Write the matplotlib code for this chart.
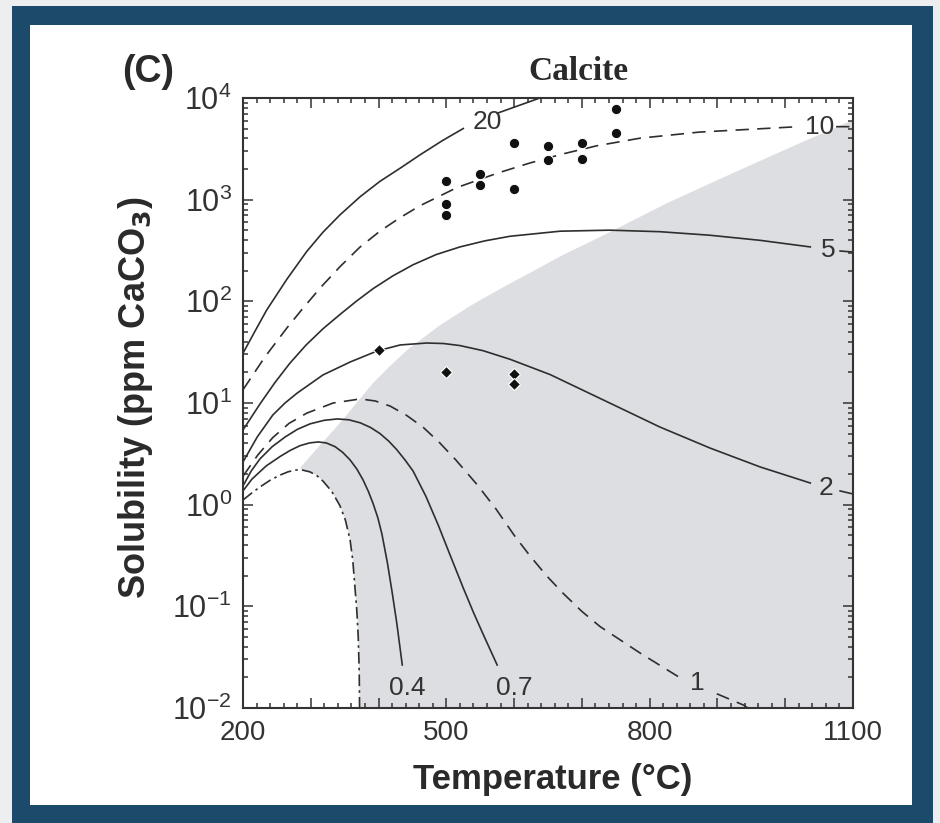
import numpy as np
import matplotlib
matplotlib.use("Agg")
import matplotlib.pyplot as plt
from matplotlib.patches import Rectangle
from matplotlib.ticker import MultipleLocator, LogLocator, NullFormatter

plt.rcParams['font.family'] = ['Liberation Sans', 'DejaVu Sans']

## 数据 (温度 °C, log10 溶解度 ppm)
t_20 = [200, 218, 235, 265, 294, 318, 343, 373, 402, 432, 461, 494, 525, np.nan, 575, 638]
log_20 = [1.49, 1.71, 1.915, 2.22, 2.49, 2.68, 2.85, 3.03, 3.18, 3.31, 3.44, 3.58, 3.70, np.nan, 3.85, 4.0]

t_10 = [200, 232, 265, 287, 315, 343, 372, 402, 431, 461, 516, 575, 623, 672, 722, 786, 874, 1011, np.nan, 1075, 1100]
log_10 = [1.13, 1.45, 1.74, 1.92, 2.14, 2.34, 2.53, 2.69, 2.82, 2.94, 3.12, 3.26, 3.36, 3.45, 3.53, 3.605, 3.665,
          3.715, np.nan, 3.718, 3.718]

t_5 = [200, 225, 247, 269, 293, 318, 343, 367, 392, 421, 451, 485, 520, 557, 594, 668, 741, 815, 889, 963, 1037,
       np.nan, 1081, 1100]
log_5 = [0.735, 0.99, 1.2, 1.39, 1.57, 1.73, 1.87, 2.0, 2.125, 2.25, 2.36, 2.46, 2.535, 2.595, 2.64, 2.69, 2.70,
         2.685, 2.65, 2.60, 2.535, np.nan, 2.495, 2.485]

t_2 = [200, 221, 244, 262, 280, 318, 358, 398, 432, 471, 496, 520, 554, 594, 653, 741, 815, 889, 963, 1037,
       np.nan, 1081, 1100]
log_2 = [0.42, 0.666, 0.882, 1.0, 1.098, 1.276, 1.403, 1.512, 1.571, 1.59, 1.585, 1.565, 1.515, 1.43, 1.28, 1.0,
         0.764, 0.557, 0.371, 0.213, np.nan, 0.135, 0.105]

t_1 = [200, 222, 244, 268, 294, 333, 373, 395, 417, 441, 466, 490, 514, 545, 573, 600, 623, 648, 672, 700, 727,
       786, 849, np.nan, 899, 938, 945]
log_1 = [0.28, 0.49, 0.66, 0.8, 0.9, 1.0, 1.04, 1.02, 0.97, 0.88, 0.76, 0.61, 0.44, 0.2, -0.04, -0.30, -0.50,
         -0.70, -0.87, -1.05, -1.2, -1.46, -1.72, np.nan, -1.86, -1.97, -2.0]

t_07 = [200, 212, 225, 243, 262, 280, 299, 320, 339, 356, 373, 388, 402, 415, 427, 439, 451, 470, 488, 507, 525,
        540, 554, 575]
log_07 = [0.184, 0.33, 0.45, 0.57, 0.665, 0.74, 0.795, 0.83, 0.843, 0.835, 0.805, 0.76, 0.70, 0.625, 0.54, 0.44,
          0.33, 0.08, -0.20, -0.52, -0.82, -1.06, -1.27, -1.577]

t_04 = [200, 213, 234, 255, 270, 284, 298, 311, 323, 336, 347, 358, 368, 377, 385, 392, 399, 405, 413, 420, 427, 435]
log_04 = [0.135, 0.25, 0.38, 0.475, 0.535, 0.58, 0.607, 0.617, 0.607, 0.57, 0.515, 0.44, 0.35, 0.245, 0.13, 0.01,
          -0.13, -0.29, -0.57, -0.86, -1.17, -1.577]

t_dd = [200, 212, 225, 240, 255, 266, 277, 288, 299, 309, 318, 331, 343, 351, 358, 362, 365, 368, 370, 371.5, 372]
log_dd = [0.046, 0.11, 0.174, 0.24, 0.292, 0.322, 0.341, 0.34, 0.322, 0.285, 0.232, 0.13, -0.01, -0.15, -0.347,
          -0.55, -0.80, -1.05, -1.30, -1.65, -2.0]

# 阴影区上边界
t_shade = [284, 314, 343, 392, 417, 442, 491, 535, 579, 623, 675, 727, 826, 923, 1022, 1100]
log_shade = [0.361, 0.587, 0.803, 1.197, 1.364, 1.521, 1.767, 1.954, 2.121, 2.279, 2.466, 2.633, 2.967, 3.262,
             3.557, 3.784]

# 实验点
t_circle = [500, 500, 500, 550, 550, 600, 600, 650, 650, 700, 700, 750, 750]
s_circle = [1510, 910, 710, 1780, 1400, 3590, 1270, 3390, 2450, 3590, 2510, 7760, 4570]
t_diamond = [400, 500, 600, 600]
s_diamond = [33, 20, 19.5, 15.5]

curve_labels = ['20', '10', '5', '2', '1', '0.4', '0.7']
x_ticks = [200, 300, 400, 500, 600, 700, 800, 900, 1000, 1100]
x_tick_labels = ['200', '', '', '500', '', '', '800', '', '', '1100']

## 画布和边框
fig = plt.figure(figsize=(9.4, 8.23), dpi=100)
fig.patch.set_facecolor('#eceef0')
fig.patches.append(Rectangle((12/940, 0), 921/940, 1 - 6/823, transform=fig.transFigure,
                             facecolor='#1c4a6a', edgecolor='none', zorder=-10))
fig.patches.append(Rectangle((30/940, 18/823), 882/940, 780/823, transform=fig.transFigure,
                             facecolor='white', edgecolor='none', zorder=-9))

ax = fig.add_axes([243/940, 115/823, 610/940, 610/823])
ax.set_zorder(1)

## 阴影区 (上边界 + 点划线右侧)
dd_side = [(t, v) for t, v in zip(t_dd, log_dd) if t > t_shade[0]][::-1]
poly_t = t_shade + [1100, t_dd[-1]] + [p[0] for p in dd_side]
poly_s = [10**v for v in log_shade] + [0.01, 0.01] + [10**p[1] for p in dd_side]
ax.fill(poly_t, poly_s, color='#dddee1', lw=0, zorder=0)

## 曲线
lc = '#2e2e2e'
solid = dict(color=lc, lw=1.2, linestyle='-')
dashed = dict(color=lc, lw=1.2, linestyle=(0, (8, 5)))
ax.plot(t_20, np.power(10.0, log_20), **solid)
ax.plot(t_10, np.power(10.0, log_10), **dashed)
ax.plot(t_5, np.power(10.0, log_5), **solid)
ax.plot(t_2, np.power(10.0, log_2), **solid)
ax.plot(t_1, np.power(10.0, log_1), **dashed)
ax.plot(t_07, np.power(10.0, log_07), **solid)
ax.plot(t_04, np.power(10.0, log_04), **solid)
ax.plot(t_dd, np.power(10.0, log_dd), color=lc, lw=1.2, linestyle=(0, (7, 2.5, 1.5, 2.5)))

## 数据点
ax.plot(t_circle, s_circle, 'o', color='#111111', mec='white', mew=0.8, ms=7.5, zorder=5)
ax.plot(t_diamond, s_diamond, 'D', color='#111111', mec='white', mew=0.8, ms=6.5, zorder=5)

## 曲线标注
label_pos = [(561, 5800), (1051, 5190), (1063, 320), (1060, 1.46), (870, 0.0176), (443, 0.0157), (601, 0.0157)]
for txt, (lx, ly) in zip(curve_labels, label_pos):
    ax.text(lx, ly, txt, fontsize=19, color='#333333', ha='center', va='center')

## 坐标轴
ax.set_yscale('log')
ax.set_xlim(200, 1100)
ax.set_ylim(1e-2, 1e4)
ax.set_xticks(x_ticks)
ax.set_xticklabels(x_tick_labels)
ax.xaxis.set_minor_locator(MultipleLocator(20))
ax.yaxis.set_major_locator(LogLocator(base=10, numticks=10))
ax.yaxis.set_minor_locator(LogLocator(base=10, subs=np.arange(2, 10), numticks=20))
ax.yaxis.set_minor_formatter(NullFormatter())
ax.tick_params(which='both', direction='in', top=True, right=True, colors='#333333', width=1.1)
ax.tick_params(which='major', length=7, labelsize=20, labelcolor='#333333')
ax.tick_params(which='minor', length=3.5)
ax.tick_params(axis='x', which='major', pad=9)
ax.tick_params(axis='y', which='major', pad=8, labelsize=22)
for sp in ax.spines.values():
    sp.set_linewidth(1.5)
    sp.set_color('#333333')

ax.set_xlabel('Temperature (°C)', fontsize=25, fontweight='bold', color='#2a2a2a')
ax.xaxis.set_label_coords(0.507, -0.118)
ax.xaxis.label.set_va('center')
ax.set_ylabel('Solubility (ppm CaCO$_\\mathbf{3}$)', fontsize=26, fontweight='bold', color='#2a2a2a')
ax.yaxis.set_label_coords(-0.177, 0.508)
ax.yaxis.label.set_va('center')

fig.text(148/940, 1 - 72/823, '(C)', fontsize=27, fontweight='bold', color='#2a2a2a', ha='center', va='center')
fig.text(578/940, 1 - 72/823, 'Calcite', fontsize=24, fontweight='bold', color='#2a2a2a', ha='center', va='center',
         family=['Liberation Serif', 'DejaVu Serif'])

plt.savefig('out.png', dpi=100, facecolor=fig.get_facecolor())
